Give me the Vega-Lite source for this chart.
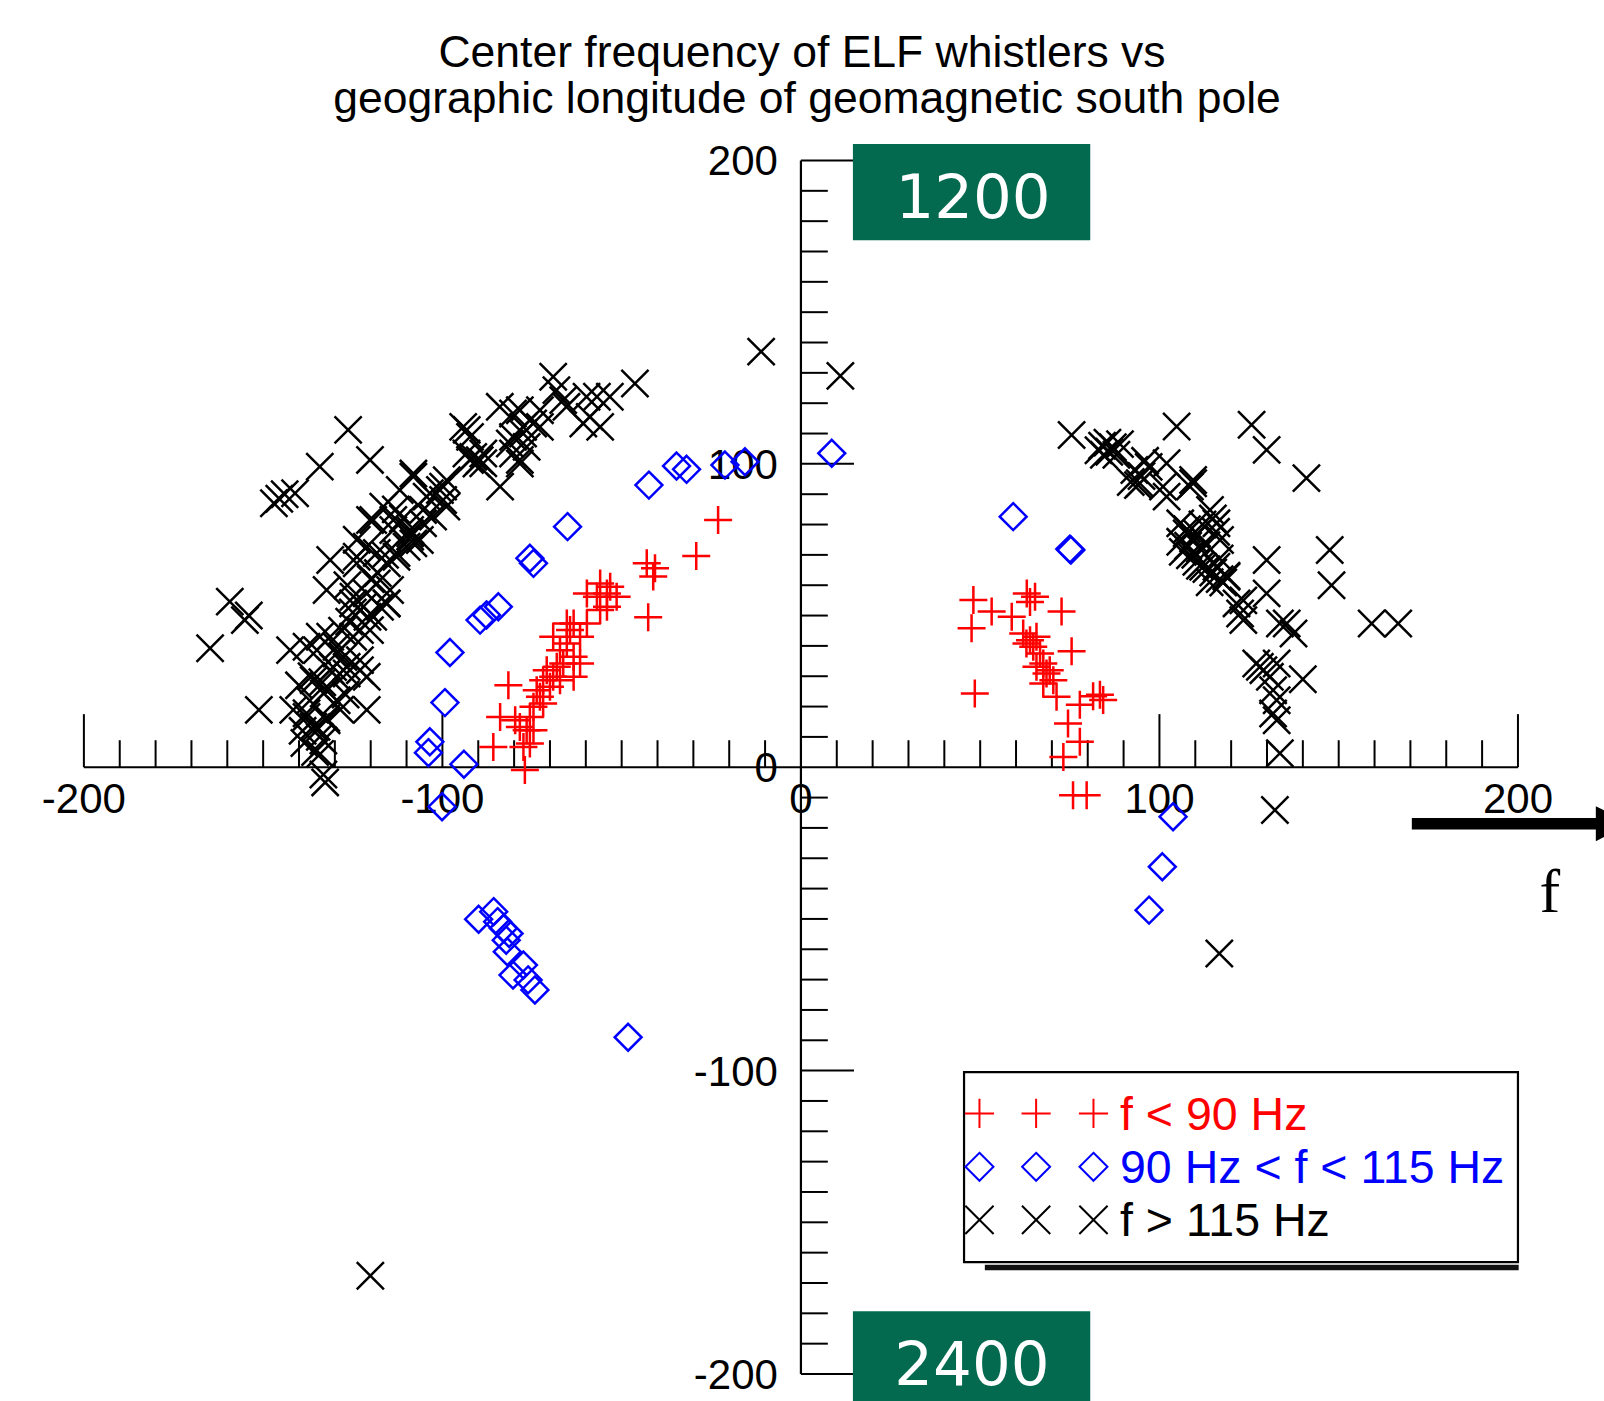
{
  "$schema": "https://vega.github.io/schema/vega-lite/v6.json",
  "width": 1604,
  "height": 1401,
  "autosize": {"type": "fit", "contains": "padding"},
  "padding": 0,
  "background": "white",
  "config": {"view": {"stroke": null}, "axis": {"disable": true}},
  "data": {"values": [{}]},
  "datasets": {
    "pts": [
      {"x": -11.1, "y": 137, "c": "hi"}, {"x": 11, "y": 129, "c": "hi"}, {"x": -126.3, "y": 111.2, "c": "hi"}, {"x": -120.2, "y": 101.3, "c": "hi"},
      {"x": -134.2, "y": 99.1, "c": "hi"}, {"x": -141.1, "y": 90.3, "c": "hi"}, {"x": -147, "y": 87, "c": "hi"}, {"x": -145.5, "y": 88.5, "c": "hi"},
      {"x": -144, "y": 90, "c": "hi"}, {"x": -159.3, "y": 54.6, "c": "hi"}, {"x": -155.1, "y": 48.5, "c": "hi"}, {"x": -154, "y": 50, "c": "hi"},
      {"x": -164.8, "y": 39.2, "c": "hi"}, {"x": -151.2, "y": 18.9, "c": "hi"}, {"x": -133.2, "y": -2.4, "c": "hi"}, {"x": -132.7, "y": -5, "c": "hi"},
      {"x": -136, "y": 13.4, "c": "hi"}, {"x": -134.2, "y": 10, "c": "hi"}, {"x": -137.9, "y": 17.8, "c": "hi"}, {"x": -132.4, "y": 16.2, "c": "hi"},
      {"x": -141.6, "y": 18.9, "c": "hi"}, {"x": -121.1, "y": 18.9, "c": "hi"}, {"x": -128.5, "y": 19, "c": "hi"}, {"x": -132.3, "y": 25.4, "c": "hi"},
      {"x": -129.5, "y": 29.8, "c": "hi"}, {"x": -126.7, "y": 33.1, "c": "hi"}, {"x": -142.5, "y": 38.6, "c": "hi"}, {"x": -135, "y": 38.6, "c": "hi"},
      {"x": -129.5, "y": 39.7, "c": "hi"}, {"x": -123, "y": 32, "c": "hi"}, {"x": -131.3, "y": 43, "c": "hi"}, {"x": -127.6, "y": 36.3, "c": "hi"},
      {"x": -123, "y": 45.2, "c": "hi"}, {"x": -119.3, "y": 49.6, "c": "hi"}, {"x": -117.4, "y": 52.9, "c": "hi"}, {"x": -121.1, "y": 57.3, "c": "hi"},
      {"x": -124.8, "y": 56.2, "c": "hi"}, {"x": -132.3, "y": 58.4, "c": "hi"}, {"x": -114.6, "y": 58.4, "c": "hi"}, {"x": -115.5, "y": 54, "c": "hi"},
      {"x": -131.3, "y": 68.3, "c": "hi"}, {"x": -123.9, "y": 67.2, "c": "hi"}, {"x": -121.1, "y": 72.7, "c": "hi"}, {"x": -119.3, "y": 81.5, "c": "hi"},
      {"x": -113.7, "y": 78.2, "c": "hi"}, {"x": -109, "y": 76, "c": "hi"}, {"x": -108.1, "y": 73.8, "c": "hi"}, {"x": -106.3, "y": 74.9, "c": "hi"},
      {"x": -110, "y": 72.7, "c": "hi"}, {"x": -112.8, "y": 69.4, "c": "hi"}, {"x": -115.5, "y": 67.2, "c": "hi"}, {"x": -108.1, "y": 95.8, "c": "hi"},
      {"x": -104.4, "y": 89.2, "c": "hi"}, {"x": -99.8, "y": 92.5, "c": "hi"}, {"x": -99.8, "y": 88.1, "c": "hi"}, {"x": -102.6, "y": 82.6, "c": "hi"},
      {"x": -98.9, "y": 85.9, "c": "hi"}, {"x": -105.4, "y": 84.8, "c": "hi"}, {"x": -94.2, "y": 112.2, "c": "hi"}, {"x": -92.3, "y": 108.9, "c": "hi"},
      {"x": -91.4, "y": 102.3, "c": "hi"}, {"x": -93.3, "y": 103.4, "c": "hi"}, {"x": -89.6, "y": 101.2, "c": "hi"}, {"x": -84, "y": 118.8, "c": "hi"},
      {"x": -80.3, "y": 116.6, "c": "hi"}, {"x": -80.3, "y": 108.9, "c": "hi"}, {"x": -77.5, "y": 112.2, "c": "hi"}, {"x": -83.9, "y": 92.5, "c": "hi"},
      {"x": -80.3, "y": 103.4, "c": "hi"}, {"x": -78.4, "y": 100.1, "c": "hi"}, {"x": -74.7, "y": 113.3, "c": "hi"}, {"x": -69.1, "y": 128.7, "c": "hi"},
      {"x": -66.3, "y": 121, "c": "hi"}, {"x": -59.8, "y": 122.1, "c": "hi"}, {"x": -58.9, "y": 115.5, "c": "hi"}, {"x": -56.9, "y": 122.1, "c": "hi"},
      {"x": -56, "y": 112.2, "c": "hi"}, {"x": -53.3, "y": 122.1, "c": "hi"}, {"x": -46.3, "y": 126.5, "c": "hi"}, {"x": -72.8, "y": 117.7, "c": "hi"},
      {"x": -88.6, "y": 103.4, "c": "hi"}, {"x": -76.5, "y": 105.6, "c": "hi"}, {"x": -81.2, "y": 106.7, "c": "hi"}, {"x": -90.5, "y": 100.1, "c": "hi"},
      {"x": -98.8, "y": 94.6, "c": "hi"}, {"x": -100.7, "y": 91.4, "c": "hi"}, {"x": -108.1, "y": 96.8, "c": "hi"}, {"x": -109, "y": 78.2, "c": "hi"},
      {"x": -138.5, "y": 8, "c": "hi"}, {"x": -135.5, "y": 5, "c": "hi"}, {"x": -137, "y": 22, "c": "hi"}, {"x": -133.5, "y": 28, "c": "hi"},
      {"x": -130.5, "y": 33, "c": "hi"}, {"x": -128, "y": 45, "c": "hi"}, {"x": -126, "y": 48, "c": "hi"}, {"x": -125, "y": 51, "c": "hi"},
      {"x": -122, "y": 53, "c": "hi"}, {"x": -120, "y": 62, "c": "hi"}, {"x": -118, "y": 64, "c": "hi"}, {"x": -116, "y": 70, "c": "hi"},
      {"x": -127, "y": 24, "c": "hi"}, {"x": -139, "y": 12, "c": "hi"}, {"x": -136.5, "y": 30, "c": "hi"}, {"x": -140, "y": 27, "c": "hi"},
      {"x": -126.5, "y": 60, "c": "hi"}, {"x": -111, "y": 82, "c": "hi"}, {"x": -113, "y": 85, "c": "hi"},
      {"x": -123.9, "y": 69.4, "c": "hi"}, {"x": -118.3, "y": 60.6, "c": "hi"}, {"x": -124.9, "y": 54, "c": "hi"}, {"x": -115.6, "y": 54, "c": "hi"},
      {"x": -120.9, "y": 49.6, "c": "hi"}, {"x": -120.2, "y": 45.2, "c": "hi"}, {"x": -124.9, "y": 43, "c": "hi"}, {"x": -134.2, "y": 43, "c": "hi"},
      {"x": -137.9, "y": 39.7, "c": "hi"}, {"x": -129.5, "y": 37.5, "c": "hi"}, {"x": -123, "y": 35.3, "c": "hi"}, {"x": -131.3, "y": 32, "c": "hi"},
      {"x": -126.7, "y": 30.9, "c": "hi"}, {"x": -121.1, "y": 29.8, "c": "hi"}, {"x": -135.9, "y": 28.7, "c": "hi"}, {"x": -133.1, "y": 24.3, "c": "hi"},
      {"x": -129.5, "y": 22.1, "c": "hi"}, {"x": -137.9, "y": 16.6, "c": "hi"}, {"x": -135.1, "y": 13.3, "c": "hi"}, {"x": -132.3, "y": 15.5, "c": "hi"},
      {"x": -133.2, "y": 8.8, "c": "hi"}, {"x": -134.1, "y": 4.4, "c": "hi"}, {"x": -109, "y": 77.1, "c": "hi"}, {"x": -103.5, "y": 90.3, "c": "hi"},
      {"x": -93.2, "y": 111.2, "c": "hi"}, {"x": -92.3, "y": 101.3, "c": "hi"}, {"x": -88.6, "y": 100.2, "c": "hi"}, {"x": -78.4, "y": 117.7, "c": "hi"},
      {"x": -77.5, "y": 110, "c": "hi"}, {"x": -78.4, "y": 101.3, "c": "hi"}, {"x": -72.8, "y": 112.2, "c": "hi"}, {"x": -68.2, "y": 124.3, "c": "hi"},
      {"x": -65.4, "y": 118.8, "c": "hi"}, {"x": -60.7, "y": 113.3, "c": "hi"}, {"x": -120.2, "y": 81.5, "c": "hi"}, {"x": -116.5, "y": 85.9, "c": "hi"},
      {"x": -111.9, "y": 91.4, "c": "hi"}, {"x": -113.7, "y": 81.5, "c": "hi"}, {"x": -105.4, "y": 80.4, "c": "hi"}, {"x": -123.9, "y": 75, "c": "hi"},
      {"x": -118.3, "y": 70.6, "c": "hi"}, {"x": -112.8, "y": 70.6, "c": "hi"},
      {"x": 75.5, "y": 109.5, "c": "hi"}, {"x": 104.8, "y": 112.3, "c": "hi"}, {"x": 125.7, "y": 112.9, "c": "hi"}, {"x": 129.9, "y": 104.6, "c": "hi"},
      {"x": 141, "y": 95.3, "c": "hi"}, {"x": 84, "y": 106, "c": "hi"}, {"x": 85.5, "y": 107, "c": "hi"}, {"x": 87, "y": 105.5, "c": "hi"},
      {"x": 86, "y": 104, "c": "hi"}, {"x": 88, "y": 103, "c": "hi"}, {"x": 83, "y": 104.5, "c": "hi"}, {"x": 89, "y": 106.5, "c": "hi"},
      {"x": 84.5, "y": 103, "c": "hi"}, {"x": 93, "y": 98, "c": "hi"}, {"x": 95, "y": 96, "c": "hi"}, {"x": 92, "y": 94, "c": "hi"},
      {"x": 97, "y": 99, "c": "hi"}, {"x": 94, "y": 93, "c": "hi"}, {"x": 96, "y": 101, "c": "hi"}, {"x": 102, "y": 100.2, "c": "hi"},
      {"x": 102, "y": 89.2, "c": "hi"}, {"x": 108.5, "y": 92.5, "c": "hi"}, {"x": 109.4, "y": 94.7, "c": "hi"}, {"x": 107.7, "y": 78.5, "c": "hi"},
      {"x": 109.4, "y": 75.4, "c": "hi"}, {"x": 111.3, "y": 72.1, "c": "hi"}, {"x": 105.8, "y": 74.3, "c": "hi"}, {"x": 108.5, "y": 69.9, "c": "hi"},
      {"x": 110.3, "y": 67.7, "c": "hi"}, {"x": 113.1, "y": 73.2, "c": "hi"}, {"x": 114.9, "y": 82, "c": "hi"}, {"x": 115.8, "y": 77.6, "c": "hi"},
      {"x": 116.8, "y": 68.8, "c": "hi"}, {"x": 108, "y": 73, "c": "hi"}, {"x": 110.5, "y": 77, "c": "hi"}, {"x": 112, "y": 80, "c": "hi"},
      {"x": 106.5, "y": 71, "c": "hi"}, {"x": 110, "y": 70, "c": "hi"}, {"x": 115, "y": 64.2, "c": "hi"}, {"x": 116.8, "y": 62, "c": "hi"},
      {"x": 118.7, "y": 63.1, "c": "hi"}, {"x": 113.1, "y": 65.3, "c": "hi"}, {"x": 117.8, "y": 60.9, "c": "hi"}, {"x": 111.3, "y": 66.4, "c": "hi"},
      {"x": 114, "y": 61, "c": "hi"}, {"x": 122.5, "y": 50.7, "c": "hi"}, {"x": 123.4, "y": 55, "c": "hi"}, {"x": 129.9, "y": 68.3, "c": "hi"},
      {"x": 129.9, "y": 57.3, "c": "hi"}, {"x": 137.4, "y": 44.1, "c": "hi"}, {"x": 135.5, "y": 47.4, "c": "hi"}, {"x": 147.5, "y": 71.6, "c": "hi"},
      {"x": 148, "y": 60, "c": "hi"}, {"x": 159.2, "y": 47.4, "c": "hi"}, {"x": 166.6, "y": 47.4, "c": "hi"}, {"x": 140, "y": 29, "c": "hi"},
      {"x": 128, "y": 33.1, "c": "hi"}, {"x": 127, "y": 34.2, "c": "hi"}, {"x": 129, "y": 32, "c": "hi"}, {"x": 130.8, "y": 29.8, "c": "hi"},
      {"x": 131.7, "y": 25.4, "c": "hi"}, {"x": 132.7, "y": 22.1, "c": "hi"}, {"x": 131.7, "y": 17.7, "c": "hi"}, {"x": 132.7, "y": 15.5, "c": "hi"},
      {"x": 133.6, "y": 4.6, "c": "hi"}, {"x": 132.2, "y": -14.1, "c": "hi"}, {"x": 132.7, "y": 34.2, "c": "hi"}, {"x": 116.7, "y": -61.4, "c": "hi"},
      {"x": 107.6, "y": 77.1, "c": "hi"}, {"x": 105.8, "y": 80.4, "c": "hi"}, {"x": 114.1, "y": 84.8, "c": "hi"}, {"x": 115.9, "y": 80.4, "c": "hi"},
      {"x": 116.9, "y": 74.9, "c": "hi"}, {"x": 109.4, "y": 93.6, "c": "hi"}, {"x": 101, "y": 92.5, "c": "hi"}, {"x": 94.5, "y": 93.6, "c": "hi"},
      {"x": 115.9, "y": 66.1, "c": "hi"}, {"x": 118.7, "y": 62.8, "c": "hi"}, {"x": 112.2, "y": 66.1, "c": "hi"}, {"x": 121.5, "y": 54, "c": "hi"},
      {"x": 123.4, "y": 48.5, "c": "hi"}, {"x": 133.6, "y": 47.4, "c": "hi"},
      {"x": -120.1, "y": -167.6, "c": "hi"},
      {"x": 8.6, "y": 103.5, "c": "mid"}, {"x": -21.2, "y": 99.6, "c": "mid"}, {"x": -15.6, "y": 100.7, "c": "mid"}, {"x": -31.9, "y": 98.2, "c": "mid"},
      {"x": -34.7, "y": 99.3, "c": "mid"}, {"x": -42.4, "y": 93, "c": "mid"}, {"x": -65.1, "y": 79.3, "c": "mid"}, {"x": -75.6, "y": 68.9, "c": "mid"},
      {"x": -74.6, "y": 67.2, "c": "mid"}, {"x": -84.4, "y": 52.9, "c": "mid"}, {"x": -87.7, "y": 50.2, "c": "mid"}, {"x": -89.5, "y": 48.5, "c": "mid"},
      {"x": -97.9, "y": 37.8, "c": "mid"}, {"x": -99.3, "y": 21.3, "c": "mid"}, {"x": -103.5, "y": 8.4, "c": "mid"}, {"x": -103.9, "y": 4.8, "c": "mid"},
      {"x": -94, "y": 1, "c": "mid"}, {"x": -100.1, "y": -13, "c": "mid"}, {"x": -89.9, "y": -50.1, "c": "mid"}, {"x": -85.7, "y": -47.6, "c": "mid"},
      {"x": -84.6, "y": -50.9, "c": "mid"}, {"x": -83, "y": -53.1, "c": "mid"}, {"x": -81.4, "y": -54.8, "c": "mid"}, {"x": -82.2, "y": -57, "c": "mid"},
      {"x": -81.9, "y": -60.8, "c": "mid"}, {"x": -77.4, "y": -65.2, "c": "mid"}, {"x": -80.3, "y": -68.5, "c": "mid"}, {"x": -76.1, "y": -70.1, "c": "mid"},
      {"x": -74.2, "y": -73.4, "c": "mid"}, {"x": -48.2, "y": -89, "c": "mid"}, {"x": 103.8, "y": -16.3, "c": "mid"}, {"x": 100.8, "y": -32.8, "c": "mid"},
      {"x": 97.1, "y": -47.1, "c": "mid"}, {"x": 59.2, "y": 82.6, "c": "mid"}, {"x": 75, "y": 71.9, "c": "mid"}, {"x": 75.3, "y": 71.6, "c": "mid"},
      {"x": -23.1, "y": 81.5, "c": "lo"}, {"x": -29.2, "y": 69.6, "c": "lo"}, {"x": -42.6, "y": 49.4, "c": "lo"}, {"x": -43, "y": 67.2, "c": "lo"},
      {"x": -40.7, "y": 65.6, "c": "lo"}, {"x": -41.2, "y": 62.9, "c": "lo"}, {"x": -56, "y": 60.6, "c": "lo"}, {"x": -54.1, "y": 57.3, "c": "lo"},
      {"x": -56.9, "y": 56.2, "c": "lo"}, {"x": -53.2, "y": 59.5, "c": "lo"}, {"x": -51.4, "y": 56.2, "c": "lo"}, {"x": -56, "y": 51.8, "c": "lo"},
      {"x": -59.7, "y": 57.3, "c": "lo"}, {"x": -63.4, "y": 47.4, "c": "lo"}, {"x": -64.4, "y": 45.2, "c": "lo"}, {"x": -61.6, "y": 43, "c": "lo"},
      {"x": -65.3, "y": 40.8, "c": "lo"}, {"x": -67.2, "y": 38.6, "c": "lo"}, {"x": -63.4, "y": 36.4, "c": "lo"}, {"x": -66.3, "y": 34.2, "c": "lo"},
      {"x": -68.1, "y": 33.1, "c": "lo"}, {"x": -69.1, "y": 29.8, "c": "lo"}, {"x": -71.9, "y": 28.7, "c": "lo"}, {"x": -70.9, "y": 32, "c": "lo"},
      {"x": -73.7, "y": 25.4, "c": "lo"}, {"x": -72.8, "y": 23.2, "c": "lo"}, {"x": -74.6, "y": 19.9, "c": "lo"}, {"x": -75.6, "y": 16.6, "c": "lo"},
      {"x": -76.5, "y": 12.2, "c": "lo"}, {"x": -75.6, "y": 7.8, "c": "lo"}, {"x": -77.4, "y": 6.7, "c": "lo"}, {"x": -81.6, "y": 27, "c": "lo"},
      {"x": -83.9, "y": 16.6, "c": "lo"}, {"x": -79.7, "y": 15.5, "c": "lo"}, {"x": -85.8, "y": 6.7, "c": "lo"}, {"x": -77, "y": -0.9, "c": "lo"},
      {"x": -69.1, "y": 43, "c": "lo"}, {"x": -65.3, "y": 47.4, "c": "lo"}, {"x": -61.6, "y": 34.2, "c": "lo"}, {"x": -63.4, "y": 29.8, "c": "lo"},
      {"x": -70, "y": 26.5, "c": "lo"}, {"x": -67.2, "y": 28.7, "c": "lo"}, {"x": -71.9, "y": 21, "c": "lo"}, {"x": -59.7, "y": 47.4, "c": "lo"},
      {"x": -54.1, "y": 52.9, "c": "lo"}, {"x": -74.6, "y": 12.2, "c": "lo"}, {"x": -78.4, "y": 13.3, "c": "lo"},
      {"x": 48.1, "y": 55.1, "c": "lo"}, {"x": 47.6, "y": 45.8, "c": "lo"}, {"x": 53.2, "y": 51.3, "c": "lo"}, {"x": 58.8, "y": 49.6, "c": "lo"},
      {"x": 63, "y": 57.3, "c": "lo"}, {"x": 65.3, "y": 56.2, "c": "lo"}, {"x": 63.9, "y": 54.5, "c": "lo"}, {"x": 72.7, "y": 51.3, "c": "lo"},
      {"x": 75.5, "y": 38.2, "c": "lo"}, {"x": 62, "y": 44.1, "c": "lo"}, {"x": 63.9, "y": 41.9, "c": "lo"}, {"x": 65.7, "y": 43, "c": "lo"},
      {"x": 64.8, "y": 39.7, "c": "lo"}, {"x": 66.7, "y": 37.5, "c": "lo"}, {"x": 62.9, "y": 40.8, "c": "lo"}, {"x": 67.6, "y": 34.2, "c": "lo"},
      {"x": 65.7, "y": 33.1, "c": "lo"}, {"x": 68.5, "y": 30.9, "c": "lo"}, {"x": 70.4, "y": 28.7, "c": "lo"}, {"x": 67.6, "y": 27.6, "c": "lo"},
      {"x": 71.3, "y": 23.2, "c": "lo"}, {"x": 69.4, "y": 32, "c": "lo"}, {"x": 48.5, "y": 24.3, "c": "lo"}, {"x": 77.8, "y": 20.6, "c": "lo"},
      {"x": 81.5, "y": 23.4, "c": "lo"}, {"x": 83.4, "y": 23.9, "c": "lo"}, {"x": 84.3, "y": 22.2, "c": "lo"}, {"x": 74.5, "y": 14.4, "c": "lo"},
      {"x": 77.8, "y": 8.4, "c": "lo"}, {"x": 73.2, "y": 3.4, "c": "lo"}, {"x": 75.9, "y": -9.2, "c": "lo"}, {"x": 79.7, "y": -9.2, "c": "lo"}
    ],
    "minor": [
      {"v": -190}, {"v": -180}, {"v": -170}, {"v": -160}, {"v": -150}, {"v": -140}, {"v": -130}, {"v": -120}, {"v": -110},
      {"v": -90}, {"v": -80}, {"v": -70}, {"v": -60}, {"v": -50}, {"v": -40}, {"v": -30}, {"v": -20}, {"v": -10},
      {"v": 10}, {"v": 20}, {"v": 30}, {"v": 40}, {"v": 50}, {"v": 60}, {"v": 70}, {"v": 80}, {"v": 90},
      {"v": 110}, {"v": 120}, {"v": 130}, {"v": 140}, {"v": 150}, {"v": 160}, {"v": 170}, {"v": 180}, {"v": 190}
    ],
    "major": [{"v": -200}, {"v": -100}, {"v": 100}, {"v": 200}],
    "labels": [{"v": -200, "t": "-200"}, {"v": -100, "t": "-100"}, {"v": 0, "t": "0"}, {"v": 100, "t": "100"}, {"v": 200, "t": "200"}],
    "legsym": [
      {"x": 49.8, "y": -114.1, "c": "lo"}, {"x": 65.6, "y": -114.1, "c": "lo"}, {"x": 81.6, "y": -114.1, "c": "lo"},
      {"x": 49.8, "y": -131.7, "c": "mid"}, {"x": 65.6, "y": -131.7, "c": "mid"}, {"x": 81.6, "y": -131.7, "c": "mid"},
      {"x": 49.8, "y": -149.2, "c": "hi"}, {"x": 65.6, "y": -149.2, "c": "hi"}, {"x": 81.6, "y": -149.2, "c": "hi"}
    ],
    "legtxt": [
      {"x": 89, "y": -114.9, "c": "lo", "t": "f < 90 Hz"},
      {"x": 89, "y": -132.5, "c": "mid", "t": "90 Hz < f < 115 Hz"},
      {"x": 89, "y": -150.0, "c": "hi", "t": "f > 115 Hz"}
    ]
  },
  "layer": [
    {
      "mark": {"type": "rule", "color": "black", "strokeWidth": 2.2},
      "encoding": {
        "x": {"datum": -200, "type": "quantitative", "scale": {"domain": [-223.4, 224.0], "nice": false, "zero": false}, "axis": null},
        "x2": {"datum": 200},
        "y": {"datum": 0, "type": "quantitative", "scale": {"domain": [-208.9, 252.9], "nice": false, "zero": false}, "axis": null}
      }
    },
    {
      "mark": {"type": "rule", "color": "black", "strokeWidth": 2.2},
      "encoding": {
        "x": {"datum": 0, "type": "quantitative"},
        "y": {"datum": -200, "type": "quantitative"},
        "y2": {"datum": 200}
      }
    },
    {
      "data": {"name": "minor"},
      "mark": {"type": "rule", "color": "black", "strokeWidth": 2},
      "encoding": {
        "x": {"field": "v", "type": "quantitative"},
        "y": {"datum": 0, "type": "quantitative"},
        "y2": {"datum": 8.9}
      }
    },
    {
      "data": {"name": "major"},
      "mark": {"type": "rule", "color": "black", "strokeWidth": 2},
      "encoding": {
        "x": {"field": "v", "type": "quantitative"},
        "y": {"datum": 0, "type": "quantitative"},
        "y2": {"datum": 17.5}
      }
    },
    {
      "data": {"name": "minor"},
      "mark": {"type": "rule", "color": "black", "strokeWidth": 2},
      "encoding": {
        "y": {"field": "v", "type": "quantitative"},
        "x": {"datum": 0, "type": "quantitative"},
        "x2": {"datum": 7.5}
      }
    },
    {
      "data": {"name": "major"},
      "mark": {"type": "rule", "color": "black", "strokeWidth": 2},
      "encoding": {
        "y": {"field": "v", "type": "quantitative"},
        "x": {"datum": 0, "type": "quantitative"},
        "x2": {"datum": 14.8}
      }
    },
    {
      "data": {"name": "labels"},
      "mark": {"type": "text", "font": "Liberation Sans", "fontSize": 42, "align": "center", "baseline": "middle", "color": "black"},
      "encoding": {
        "x": {"field": "v", "type": "quantitative"},
        "y": {"datum": -10.9, "type": "quantitative"},
        "text": {"field": "t"}
      }
    },
    {
      "data": {"name": "labels"},
      "mark": {"type": "text", "font": "Liberation Sans", "fontSize": 42, "align": "right", "baseline": "middle", "dx": -23, "dy": 2, "color": "black"},
      "encoding": {
        "y": {"field": "v", "type": "quantitative"},
        "x": {"datum": 0, "type": "quantitative"},
        "text": {"field": "t"}
      }
    },
    {
      "mark": {"type": "text", "font": "Liberation Sans", "fontSize": 44.5, "align": "center", "baseline": "alphabetic", "color": "black", "text": "Center frequency of ELF whistlers vs"},
      "encoding": {
        "x": {"datum": 0.3, "type": "quantitative"},
        "y": {"datum": 230.9, "type": "quantitative"}
      }
    },
    {
      "mark": {"type": "text", "font": "Liberation Sans", "fontSize": 44.5, "align": "center", "baseline": "alphabetic", "color": "black", "text": "geographic longitude of geomagnetic south pole"},
      "encoding": {
        "x": {"datum": 1.7, "type": "quantitative"},
        "y": {"datum": 215.8, "type": "quantitative"}
      }
    },
    {
      "data": {"name": "pts"},
      "mark": {"type": "point", "filled": false, "strokeWidth": 2.5, "size": 784, "opacity": 1},
      "encoding": {
        "x": {"field": "x", "type": "quantitative"},
        "y": {"field": "y", "type": "quantitative"},
        "color": {"field": "c", "type": "nominal", "scale": {"domain": ["lo", "mid", "hi"], "range": ["#ff0000", "#0000ff", "#000000"]}, "legend": null},
        "shape": {"field": "c", "type": "nominal", "scale": {"domain": ["lo", "mid", "hi"], "range": ["M-1,0L1,0M0,-1L0,1", "M0,-0.96L0.96,0L0,0.96L-0.96,0Z", "M-0.97,-0.97L0.97,0.97M-0.97,0.97L0.97,-0.97"]}, "legend": null}
      }
    },
    {
      "mark": {"type": "rect", "color": "#036a4f"},
      "encoding": {
        "x": {"datum": 14.5, "type": "quantitative"},
        "x2": {"datum": 80.7},
        "y": {"datum": 205.4, "type": "quantitative"},
        "y2": {"datum": 173.7}
      }
    },
    {
      "mark": {"type": "rect", "color": "#036a4f", "clip": true},
      "encoding": {
        "x": {"datum": 14.5, "type": "quantitative"},
        "x2": {"datum": 80.7},
        "y": {"datum": -179.3, "type": "quantitative"},
        "y2": {"datum": -208.9}
      }
    },
    {
      "mark": {"type": "text", "font": "DejaVu Sans", "fontSize": 61, "align": "center", "baseline": "alphabetic", "color": "white", "text": "1200"},
      "encoding": {
        "x": {"datum": 48.0, "type": "quantitative"},
        "y": {"datum": 180.9, "type": "quantitative"}
      }
    },
    {
      "mark": {"type": "text", "font": "DejaVu Sans", "fontSize": 61, "align": "center", "baseline": "alphabetic", "color": "white", "text": "2400"},
      "encoding": {
        "x": {"datum": 47.7, "type": "quantitative"},
        "y": {"datum": -203.7, "type": "quantitative"}
      }
    },
    {
      "mark": {"type": "rect", "color": "#111111"},
      "encoding": {
        "x": {"datum": 51.3, "type": "quantitative"},
        "x2": {"datum": 200.2},
        "y": {"datum": -164.0, "type": "quantitative"},
        "y2": {"datum": -165.8}
      }
    },
    {
      "mark": {"type": "rect", "fill": "white", "stroke": "black", "strokeWidth": 2.2},
      "encoding": {
        "x": {"datum": 45.5, "type": "quantitative"},
        "x2": {"datum": 200.0},
        "y": {"datum": -100.5, "type": "quantitative"},
        "y2": {"datum": -163.1}
      }
    },
    {
      "data": {"name": "legsym"},
      "mark": {"type": "point", "filled": false, "strokeWidth": 2, "size": 850, "opacity": 1},
      "encoding": {
        "x": {"field": "x", "type": "quantitative"},
        "y": {"field": "y", "type": "quantitative"},
        "color": {"field": "c", "type": "nominal", "legend": null},
        "shape": {"field": "c", "type": "nominal", "legend": null}
      }
    },
    {
      "data": {"name": "legtxt"},
      "mark": {"type": "text", "font": "Liberation Sans", "fontSize": 46.5, "align": "left", "baseline": "middle"},
      "encoding": {
        "x": {"field": "x", "type": "quantitative"},
        "y": {"field": "y", "type": "quantitative"},
        "color": {"field": "c", "type": "nominal", "legend": null},
        "text": {"field": "t"}
      }
    },
    {
      "mark": {"type": "rule", "color": "black", "strokeWidth": 11.5, "clip": true},
      "encoding": {
        "x": {"datum": 170.4, "type": "quantitative"},
        "x2": {"datum": 223.0},
        "y": {"datum": -18.6, "type": "quantitative"}
      }
    },
    {
      "mark": {"type": "point", "shape": "M-1,-1L1,0L-1,1Z", "size": 1225, "filled": true, "color": "black", "opacity": 1, "clip": true},
      "encoding": {
        "x": {"datum": 226.6, "type": "quantitative"},
        "y": {"datum": -18.6, "type": "quantitative"}
      }
    },
    {
      "mark": {"type": "text", "font": "Liberation Serif", "fontSize": 62, "align": "center", "baseline": "alphabetic", "color": "black", "text": "f"},
      "encoding": {
        "x": {"datum": 208.9, "type": "quantitative"},
        "y": {"datum": -47.6, "type": "quantitative"}
      }
    }
  ]
}
